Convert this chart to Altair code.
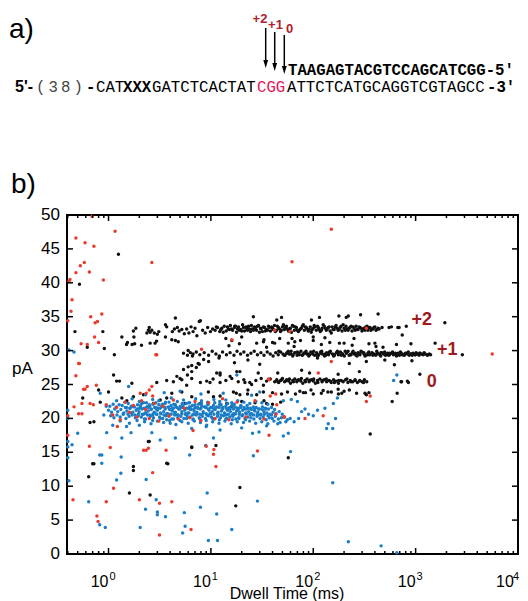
import altair as alt
import pandas as pd

# ---------------- data (dwell time in ms, current in pA) ----------------
black_plus2 = [(11,33.0),(11.6,33.4),(12.2,32.8),(12.8,33.3),(13.5,33.6),(14.1,32.9),(14.8,33.2),(15.5,33.7),(16.3,33.0),(17.0,33.4),(17.8,32.7),(18.6,33.5),(19.5,33.1),(20.4,33.8),(21.3,32.9),(22.3,33.3),(23.3,33.6),(24.4,32.8),(25.5,33.2),(26.7,33.5),(27.9,33.0),(29.2,33.7),(30.5,33.3),(31.9,32.8),(33.4,33.4),(34.9,33.1),(36.5,33.6),(38.2,32.9),(40,33.3),(41.8,33.7),(43.7,33.0),(45.7,33.4),(47.8,32.8),(50,33.5),(52.3,33.1),(54.7,33.6),(57.2,32.9),(59.8,33.3),(62.5,33.7),(65.4,33.0),(68.4,33.4),(71.5,32.8),(74.8,33.2),(78.2,33.6),(81.8,33.0),(85.5,33.4),(89.4,32.9),(93.5,33.5),(97.8,33.1),(102,33.7),(107,33.0),(112,33.4),(117,32.8),(122,33.3),(128,33.6),(134,33.0),(140,33.4),(146,32.9),(153,33.5),(160,33.1),(167,33.7),(175,33.0),(183,33.4),(191,32.9),(200,33.3),(209,33.6),(219,33.0),(229,33.4),(239,32.9),(250,33.3),(262,33.6),(274,33.1),(286,33.4),(299,32.9),(313,33.3),(327,33.5),(342,33.0),(358,33.4),(374,33.2),(391,33.4),(410,33.0),(430,33.3)]
black_plus2_b = [(11.3,33.5),(12.5,33.1),(13.2,32.7),(14.5,33.5),(15.9,33.2),(17.4,33.6),(19.0,33.0),(20.8,33.4),(22.8,33.0),(24.9,33.7),(27.3,33.3),(29.8,32.7),(32.6,33.5),(35.7,33.0),(39.1,33.5),(42.7,32.8),(46.7,33.2),(51.1,33.8),(55.9,33.2),(61.1,32.7),(66.8,33.5),(73.1,33.0),(79.9,33.8),(87.4,33.2),(95.6,32.7),(104,33.5),(114,33.1),(125,33.8),(137,33.2),(150,32.6),(164,33.5),(179,33.1),(196,33.8),(214,33.2),(234,33.6),(256,33.0),(280,33.5),(306,33.1),(335,33.6),(366,33.0),(400,33.5),(440,33.2),(470,33.4)]
black_plus2_c_x = [15.2,17.1,18.2,20,22,23.8,26,28.5,31,34,37.3,40.8,44.6,48.9,53.5,58.5,64,70,76.5,83.7,91.5,100,110,120,131,143,156,171,187,205,224,245,268,293,320,350,383,418]
black_plus2_c_y = [33.1,33.6,33.2,32.9,33.5,33.2,33.0,33.6,33.2,32.9,33.4,33.1,33.6,33.0,33.4,33.2,33.6,33.0,33.3,33.5,33.1,33.3,33.6,33.0,33.3,33.5,33.1,33.3,33.6,33.0,33.3,33.5,33.1,33.3,33.0,33.4,33.2,33.1]
black_plus1 = [(5.4,29.6),(6.0,30.0),(6.6,29.2),(7.2,29.8),(7.8,29.4),(8.6,29.7),(9.5,29.3),(10.3,29.9),(11.2,29.5),(12.1,29.2),(13.0,29.8),(14.2,29.4),(15.4,29.7),(16.8,29.3),(18.0,29.9),(19.5,29.5),(21.0,29.8),(22.8,29.3),(24.6,29.6),(26.5,29.9),(28.5,29.4),(30.8,29.7),(33,29.3),(35.5,29.8),(38,29.5),(40.5,29.2),(43,29.7),(45.5,29.4),(48,29.8),(50.5,29.5),(53,29.3),(55.5,29.7),(58,29.5),(60.8,29.9),(63.6,29.4),(66.5,29.7),(69.5,29.3),(72.6,29.6),(75.8,29.9),(79.2,29.4),(82.8,29.7),(86.5,29.5),(90.4,29.2),(94.5,29.8),(98.7,29.5),(103,29.3),(108,29.7),(113,29.4),(118,29.8),(123,29.5),(129,29.2),(135,29.7),(141,29.4),(147,29.9),(154,29.5),(161,29.3),(168,29.7),(176,29.4),(184,29.8),(192,29.5),(201,29.2),(210,29.6),(219,29.9),(229,29.4),(240,29.7),(251,29.5),(262,29.3),(274,29.7),(286,29.4),(299,29.8),(313,29.5),(327,29.3),(342,29.6),(357,29.4),(374,29.7),(391,29.5),(408,29.3),(427,29.6),(446,29.4),(466,29.7),(487,29.5),(509,29.3),(532,29.6),(556,29.4),(581,29.6),(607,29.4),(635,29.6),(664,29.5),(694,29.3),(725,29.6),(758,29.4),(792,29.6),(828,29.5),(866,29.3),(905,29.5),(946,29.6),(989,29.4),(1034,29.5),(1080,29.3),(1130,29.5),(1180,29.4),(1240,29.5),(1300,29.3),(1360,29.5)]
black_plus1_b = [(46,29.9),(52,29.3),(57,29.9),(63,29.2),(70,29.8),(78,29.3),(85,29.9),(92,29.4),(101,29.9),(111,29.2),(121,29.9),(132,29.3),(144,29.8),(158,29.2),(172,29.9),(188,29.3),(205,29.9),(224,29.3),(245,29.9),(268,29.2),(292,29.9),(320,29.2),(349,29.8),(382,29.3),(417,29.9),(456,29.2),(498,29.8),(544,29.3),(595,29.8),(650,29.2),(710,29.8),(776,29.3),(848,29.8),(927,29.3),(1010,29.7),(1105,29.6),(1210,29.7),(1400,29.4)]
black_plus1_c_x = [55,60,66,73,81,89,98,108,119,131,144,159,175,193,212,234,257,283,312,343,378,416,458,504,555,611,673,741,816,898,990,1090,1200,1320]
black_plus1_c_y = [29.6,29.5,29.7,29.4,29.6,29.5,29.7,29.4,29.6,29.5,29.7,29.4,29.6,29.5,29.7,29.4,29.6,29.5,29.7,29.4,29.6,29.5,29.7,29.4,29.6,29.5,29.6,29.4,29.6,29.5,29.4,29.6,29.5,29.4]
black_zero = [(9.1,25.5),(10.5,25.8),(12.3,25.3),(14.0,25.6),(16,25.9),(18.5,25.4),(21,25.7),(24,25.3),(27.5,25.6),(31,25.9),(35,25.5),(38,25.8),(42,25.4),(44,25.7),(46,25.3),(48,25.6),(50,25.9),(52.5,25.4),(55,25.7),(57.5,25.5),(60,25.2),(63,25.6),(66,25.8),(69,25.4),(72,25.7),(75.5,25.5),(79,25.2),(83,25.6),(87,25.8),(91,25.4),(95.5,25.7),(100,25.5),(105,25.2),(110,25.6),(116,25.8),(122,25.4),(128,25.7),(135,25.4),(142,25.6),(150,25.3),(158,25.7),(167,25.5),(176,25.2),(186,25.6),(196,25.4),(207,25.7),(218,25.3),(230,25.6),(243,25.4),(256,25.7),(270,25.3),(285,25.6),(300,25.4),(316,25.7),(333,25.4)]
black_zero_b_x = [45,49,53.5,58.5,64,70,76.5,84,92,101,111,122,134,147,161,177,194,213,234,257,282,310]
black_zero_b_y = [25.4,25.7,25.5,25.8,25.4,25.6,25.9,25.4,25.6,25.8,25.3,25.6,25.8,25.5,25.3,25.6,25.5,25.8,25.4,25.6,25.5,25.3]
black_scatter = [(1.25,44.2),(0.52,39.8),(0.47,32.8),(0.88,32.8),(0.62,30.5),(0.91,30.3),(1.14,29.4),(1.12,26.4),(1.2,25.5),(1.28,25.5),(0.56,23.0),(0.80,24.2),(1.0,23.9),
(1.35,32.0),(1.53,31.2),(1.75,32.9),(1.77,32.0),(1.85,33.3),(1.5,30.9),(1.7,30.9),(1.8,31.0),(2.1,30.8),(2.37,32.6),(2.45,33.0),(2.55,32.7),(2.65,33.0),(2.8,32.6),(3.0,32.4),(3.1,32.8),(2.5,33.4),(2.85,31.1),(3.6,33.8),(3.7,33.5),(3.6,32.0),(4.2,32.8),(4.4,33.2),(4.7,33.4),(4.9,32.9),(5.2,33.1),(5.5,32.5),(5.8,33.2),(6.1,32.6),(6.4,33.5),(6.7,32.8),(7.0,33.3),(7.3,32.2),(7.7,34.3),(8.3,33.0),(8.8,32.6),(9.3,33.4),(9.9,32.8),(10.4,33.2),(4.5,31.5),(4.8,31.3),(4.15,31.6),(2.55,31.1),(2.95,31.4),(4.5,34.8),(7.9,34.4),(26,35.0),
(28,31.1),(32.6,31.3),(42,31.1),(47,31.8),(57,31.1),(62,31.8),(66,31.3),(100,31.5),(100,32.0),
(44,34.5),(49,34.9),(96,34.5),(115,34.9),(178,35.1),(210,34.9),(220,35.1),(290,35.3),(430,35.4),(550,33.4),(580,33.5),(670,33.4),(690,33.4),(810,33.6),(740,32.3),(1930,34.1),(180,31.1),(200,31.1),(400,31.1),(410,30.6),(14,31.8),(16,31.5),(20,32.0),(33,31.6),(40,31.2),(75,31.5),(130,31.9),(250,31.8),
(1550,31.1),(2860,29.4),(500,28.6),(620,27.9),(920,28.5),(110,28.9),(225,28.1),(330,28.4),(7.5,28.1),(5.9,29.3),(6.3,29.7),(6.7,29.5),(5.4,27.2),(6.0,27.6),(6.5,27.8),(7.2,27.5),(7.7,28.0),(8.5,28.7),(9.5,28.4),(12,28.9),(17,28.2),(23,28.6),(30,28.0),(15,30.7),(19,31.0),(35,30.5),(65,30.6),(120,30.9),(145,31.2),(240,30.8),(350,31.0),(480,30.5),(650,30.9),(900,31.0),
(1.69,25.2),(2.96,25.3),(3.7,25.6),(4.65,26.2),(5.2,25.7),(6.5,25.9),(5.8,24.9),(7.9,25.3),(9.8,25.3),(11.4,26.7),(12.3,26.4),(15.4,26.2),(19.2,26.9),(21.5,25.3),(25,25.0),(32.6,24.9),
(0.83,22.4),(1.35,23.0),(1.51,22.6),(1.75,23.2),(2.2,23.5),(2.75,22.2),(3.2,22.7),(3.7,23.0),(4.15,23.7),(5.2,23.9),(5.6,22.2),(6.5,23.2),(7.9,22.2),(9.45,23.9),(10.6,23.2),(12.3,23.3),(14.3,22.2),(16.6,23.9),(19.2,23.5),(23,24.2),(28,23.5),(32.6,23.9),(35,22.2),
(74,24.0),(80,23.8),(95,24.2),(100,23.6),(125,24.1),(150,23.9),(175,24.3),(190,23.7),(200,24.0),(225,24.2),(265,23.7),(330,23.5),(350,23.8),(590,22.5),(660,23.7),(720,25.4),(830,25.5),(1100,26.5),(850,25.3),(730,25.4),(360,17.7),(57,14.2),(175,26.5),(282,26.9),(12.3,26.7),(17.9,26.9),(29,26.7),(45,26.7),(77,27.1),(92,26.7),(6.5,26.9),(5.9,26.4),(5.0,25.9),(4.3,25.4),
(17.7,23.7),(22.8,23.6),(40,23.8),(49,23.6),(56,23.9),(67,23.6),(84,23.8),(120,23.7),(139,23.9),(176,23.6),(320,23.7),
(12.3,22.0),(16,21.8),(20,22.5),(27,22.3),(33,22.6),(40,22.1),(48,22.4),
(0.72,19.5),(2.45,16.6),(1.75,12.9),(6.5,15.7),(0.72,13.3),(3.7,13.4),(0.64,11.4),(0.70,13.3),(1.6,9.0),(1.75,12.3),(2.55,8.7),(3.8,13.3),(19.2,9.8),(17.5,7.1),(6.5,15.8),(11.2,16.0),(2.5,16.6),(0.66,19.4)]

blue_a_x = [1.0,1.07,1.15,1.23,1.32,1.41,1.51,1.62,1.73,1.86,1.99,2.13,2.28,2.44,2.62,2.8,3.0,3.2,3.45,3.7,3.95,4.2,4.5,4.85,5.2,5.55,5.95,6.4,6.85,7.3,7.85,8.4,9.0,9.6,10.3,11,11.8,12.7,13.6,14.5,15.5,16.6,17.8,19.1,20.4,21.9,23.4,25,26.8,28.7,30.8,33,35.3,37.8,40.5,43.4,46.5,49.8]
blue_a_y = [21.2,20.9,21.4,21.0,21.3,20.8,21.1,21.5,20.9,21.2,21.0,21.4,20.8,21.1,21.3,20.9,21.2,21.5,21.0,20.7,21.3,21.1,20.9,21.4,21.0,21.2,20.8,21.3,21.1,20.9,21.4,21.0,20.7,21.2,21.0,21.3,20.9,21.1,20.8,21.2,21.0,20.7,21.1,20.9,21.2,20.8,21.0,20.7,21.1,20.9,20.6,21.0,20.8,20.6,20.9,20.7,21.0,20.6]
blue_b_x = [1.03,1.11,1.19,1.27,1.36,1.46,1.56,1.67,1.79,1.92,2.06,2.2,2.36,2.53,2.71,2.9,3.1,3.32,3.57,3.82,4.08,4.35,4.67,5.02,5.37,5.75,6.17,6.62,7.07,7.57,8.12,8.7,9.3,9.95,10.6,11.4,12.2,13.1,14,15,16.1,17.2,18.4,19.7,21.1,22.6,24.2,25.9,27.7,29.7,31.9,34.1,36.5,39.1,41.9]
blue_b_y = [21.8,22.1,21.7,22.0,21.9,21.6,22.2,21.8,21.7,22.0,21.9,22.3,21.7,21.8,22.1,21.6,22.0,21.8,22.2,21.7,21.9,22.1,21.6,21.8,22.0,22.2,21.7,21.9,21.6,22.1,21.8,21.7,22.0,21.6,21.9,21.7,22.1,21.6,21.8,21.5,21.9,21.7,21.5,21.8,21.6,21.9,21.5,21.7,21.6,21.4,21.7,21.5,21.4,21.6,21.3]
blue_c_x = [1.05,1.13,1.21,1.3,1.39,1.48,1.59,1.7,1.83,1.95,2.09,2.24,2.4,2.57,2.75,2.95,3.15,3.38,3.62,3.88,4.15,4.43,4.75,5.1,5.45,5.85,6.28,6.72,7.2,7.7,8.25,8.85,9.45,10.1,10.8,11.6,12.4,13.3,14.3,15.3,16.4,17.5,18.7,20.1,21.5,23,24.6,26.3,28.2,30.2,32.4,34.7,37.2,39.8,42.6,45.6,48.8,52.2,55.8,59.5]
blue_c_y = [20.4,20.1,20.5,20.2,20.6,20.0,20.3,20.5,20.1,20.4,20.2,19.9,20.5,20.3,20.1,20.6,20.2,20.0,20.4,20.3,19.9,20.5,20.1,20.3,20.0,20.4,20.2,19.9,20.5,20.1,20.3,20.0,20.4,20.2,19.9,20.3,20.1,20.4,20.0,20.2,20.3,19.9,20.1,20.4,20.0,20.2,20.1,19.9,20.3,20.0,20.2,19.8,20.1,20.0,20.3,19.9,20.1,20.2,19.8,20.0]
blue_d_x = [1.2,1.45,1.7,2.0,2.35,2.7,3.1,3.6,4.1,4.7,5.4,6.2,7.1,8.1,9.3,10.7,12.2,14,16,18.3,21,24,27.5,31.5,36]
blue_d_y = [22.6,22.4,22.9,22.5,22.3,22.8,22.6,22.4,23.0,22.5,22.7,22.3,22.9,22.6,22.4,22.8,22.5,22.7,22.3,22.6,22.4,22.2,22.5,22.3,22.1]
blue_e_x = [1.3,1.6,1.9,2.25,2.6,3.0,3.45,3.95,4.55,5.2,6.0,6.9,7.9,9.1,10.4,12,13.7,15.8,18.1,20.8,23.9,27.4,31.4,36,41.3,47.4,54]
blue_e_y = [19.6,19.3,19.7,19.5,19.2,19.6,19.4,19.7,19.1,19.5,19.3,19.6,19.4,19.0,19.5,19.3,19.6,19.2,19.5,19.4,19.6,19.3,19.5,19.2,19.6,19.4,19.5]
blue_f_x = [2.0,2.2,2.45,2.7,2.95,3.25,3.55,3.9,4.3,4.7,5.15,5.65,6.2,6.8,7.45,8.15,8.95,9.8,10.7,11.7,12.9,14.1,15.4,16.9,18.5,20.3,22.2,24.3,26.6,29.2]
blue_f_y = [21.5,20.6,21.6,20.5,21.4,20.7,21.6,20.6,21.5,20.5,21.6,20.7,21.4,20.6,21.5,20.5,21.6,20.7,21.4,20.6,21.5,20.5,21.4,20.6,21.3,20.5,21.4,20.6,21.3,20.5]
blue_g_x = [1.5,1.62,1.75,1.9,2.05,2.22,2.4,2.6,2.82,3.05,3.3,3.58,3.88,4.2,4.55,4.93,5.35,5.8,6.3,6.82,7.4,8.0,8.7,9.4,10.2,11.05,12,13,14.1,15.3,16.6,18,19.5,21.2,23,24.9,27,29.3,31.8,34.5]
blue_g_y = [21.6,21.5,21.7,21.4,21.6,21.5,21.7,21.4,21.6,21.5,21.7,21.4,21.6,21.5,21.7,21.4,21.6,21.5,21.7,21.4,21.6,21.5,21.7,21.4,21.6,21.5,21.6,21.4,21.5,21.6,21.4,21.5,21.6,21.4,21.5,21.3,21.5,21.4,21.3,21.4]
blue_h_x = [1.4,1.55,1.68,1.82,1.97,2.14,2.32,2.52,2.73,2.96,3.21,3.48,3.77,4.09,4.43,4.8,5.2,5.64,6.11,6.62,7.18,7.78,8.43,9.14,9.9,10.7,11.6,12.6,13.7,14.8,16.1,17.4,18.9,20.5,22.2,24.1,26.1,28.3,30.7,33.3,36.1,39.1]
blue_h_y = [20.7,20.6,20.8,20.5,20.7,20.6,20.8,20.5,20.7,20.6,20.8,20.5,20.7,20.6,20.8,20.5,20.7,20.6,20.8,20.5,20.7,20.6,20.8,20.5,20.7,20.6,20.8,20.5,20.7,20.6,20.5,20.7,20.6,20.5,20.7,20.6,20.5,20.6,20.5,20.6,20.4,20.5]
blue_i_x = [2.1,2.5,2.9,3.35,3.9,4.5,5.25,6.1,7.0,8.1,9.4,10.9,12.6,14.6,16.9,19.6]
blue_i_y = [22.2,22.0,22.3,22.1,22.4,22.0,22.2,22.3,22.0,22.2,22.1,22.3,22.0,22.2,22.1,21.9]
blue_j_x = [2.3,2.7,3.2,3.7,4.3,5.0,5.8,6.7,7.8,9.0,10.4,12.1,14,16.2,18.8,21.8]
blue_j_y = [19.9,19.7,20.0,19.8,19.9,19.7,20.0,19.8,19.9,19.7,20.0,19.8,19.9,19.8,20.0,19.8]
blue_scatter = [(0.41,30.1),(0.46,29.8),(0.40,21.2),(0.40,20.0),(0.40,16.6),(0.40,15.8),(0.40,14.2),(0.41,10.8),(0.44,16.1),(0.50,17.8),(0.83,23.7),(1.57,24.7),(0.96,17.9),(1.35,17.1),(1.66,17.9),(0.86,14.6),(0.82,14.6),(1.33,14.3),(0.86,13.4),(2.65,17.9),(3.2,16.8),(4.5,17.1),(4.0,19.3),(6.2,14.6),(8.9,16.0),(10.6,17.1),(12.3,18.3),(13.2,23.7),(0.64,7.7),(0.82,4.3),(0.93,3.9),(1.32,11.9),(1.2,10.9),(2.33,11.0),(2.3,6.6),(2.92,8.0),(3.0,6.2),(3.0,5.8),(3.6,5.5),(2.04,3.9),(5.5,6.1),(5.6,4.1),(5.3,3.1),(7.9,6.9),(9.2,9.0),(9.45,2.0),(11.6,2.0),(11.4,5.9),(16,3.6),(28.5,7.8),(220,1.8),(460,1.2),(655,0.2),(155,10.5),(60,15.1),(57,17.8),(51,17.4),(135,18.5),(140,19.2),(155,18.5),(165,20.0),(100,20.4),(77,21.0),(72,20.0),(83,21.4),(90,20.6),(110,21.2),(130,21.5),(26,14.5),(25.5,17.8),(29.5,18.0),(51,22.6),(61,22.8),(157,22.2),(172,23.0),(655,26.4),(610,25.6),(2.3,23.5),(3.5,23.8),(5.0,24.0),(8,23.6),(25,23.4),(30,23.9),(70,22.5),(17.9,26.4),(1.1,19.0),(1.5,18.8),(2.0,19.0),(6.5,18.5),(9,18.8),(20,18.6),(35,18.9),(45,19.2),(65,19.5),(0.9,20.5),(0.95,21.8)]

red_points = [(0.69,49.8),(0.48,46.6),(0.59,45.9),(0.72,45.4),(0.53,42.5),(0.58,43.0),(0.48,41.5),(0.65,41.6),(0.41,40.2),(0.42,40.5),(0.89,40.4),(1.16,47.6),(2.65,43.0),(0.44,37.5),(0.43,35.8),(0.40,34.4),(0.67,35.0),(0.74,34.1),(0.78,34.3),(0.86,35.4),(0.73,32.0),(0.80,31.2),(0.54,31.0),(0.62,30.9),(0.52,28.1),(0.48,26.3),(2.96,29.4),(8.1,30.2),(0.76,24.9),(0.59,24.3),(0.62,24.7),(0.55,22.2),(0.46,21.7),(2.65,24.7),(2.5,24.2),(2.04,23.7),(150,47.9),(62,43.1),(5600,29.5),(330,33.3),(150,28.4),(112,26.7),(43,23.6),(330,22.5),(360,23.3),(37,25.7),(42,33.0),(59,32.8),(16,31.6),(2.9,29.4),(0.51,28.1),(0.57,24.3),(0.51,20.7),(0.55,20.7),(0.66,22.2),(0.71,22.0),(0.65,15.9),(1.04,15.7),(1.22,18.8),(2.2,15.3),(2.33,15.3),(2.45,15.6),(3.65,15.3),(2.33,23.7),(2.7,23.3),(6.7,18.2),(9,15.9),(10.7,15.4),(10.6,14.7),(11.2,12.9),(0.45,8.0),(0.77,5.6),(0.79,4.8),(0.95,7.7),(1.12,9.7),(2.0,8.0),(2.7,12.0),(3.15,7.5),(4.15,7.7),(3.15,2.8),(6.4,3.6),(28.5,15.2),(125,20.4),(83,20.0),(37,17.5),(52,20.2),(43,20.6),(44,22.0),(36.5,25.8),(0.40,20.4),(0.40,17.5),
(0.95,22.0),(1.1,20.5),(1.2,21.6),(1.3,19.8),(1.45,22.4),(1.6,20.9),(1.75,21.9),(1.9,20.2),(2.1,22.6),(2.3,21.3),(2.5,20.0),(2.8,22.2),(3.1,19.6),(3.4,21.8),(3.9,20.4),(4.3,22.7),(4.8,19.9),(5.5,21.5),(6.2,20.1),(7,22.5),(8,19.7),(9.5,22.3),(11,20.0),(13,22.9),(15,19.8),(18,22.4),(22,20.2),(27,22.6),(33,19.9),(38,23.3),(52,20.2)]

y_ticks = [0, 5, 10, 15, 20, 25, 30, 35, 40, 45, 50]
x_decades = [1, 10, 100, 1000, 10000]
x_exponents = ["0", "1", "2", "3", "4"]
x_minor = [0.4,0.5,0.6,0.7,0.8,0.9,2,3,4,5,6,7,8,9,20,30,40,50,60,70,80,90,200,300,400,500,600,700,800,900,2000,3000,4000,5000,6000,7000,8000,9000]
state_labels = ["+2", "+1", "0"]
state_label_ms = [1150, 2040, 1440]
state_label_pA = [33.8, 29.35, 24.7]

seq_top = "TAAGAGTACGTCCAGCATCGG-5'"
arrow_labels = ["+2", "+1", "0"]

# ---------------- build tables ----------------
rows = []
for lst in (black_plus2, black_plus2_b, black_plus1, black_plus1_b, black_zero, black_scatter):
    rows += [(x, y, "black") for x, y in lst]
for xs, ys in ((black_plus2_c_x, black_plus2_c_y), (black_plus1_c_x, black_plus1_c_y), (black_zero_b_x, black_zero_b_y)):
    rows += [(x, y, "black") for x, y in zip(xs, ys)]
for xs, ys in ((blue_a_x, blue_a_y), (blue_b_x, blue_b_y), (blue_c_x, blue_c_y),
               (blue_d_x, blue_d_y), (blue_e_x, blue_e_y), (blue_f_x, blue_f_y),
               (blue_g_x, blue_g_y), (blue_h_x, blue_h_y), (blue_i_x, blue_i_y), (blue_j_x, blue_j_y)):
    rows += [(x, y, "blue") for x, y in zip(xs, ys)]
rows += [(x, y, "blue") for x, y in blue_scatter]
rows += [(x, y, "red") for x, y in red_points]
df = pd.DataFrame(rows, columns=["ms", "pA", "grp"])

W, H = 451, 339
PAD_L, PAD_T, PAD_R, PAD_B = 59, 207, 2, 48
OX, OY = 8 + PAD_L, 8 + PAD_T  # page position of plot origin
FONT = "Liberation Sans"
MONO = "Liberation Mono"

xscale = alt.Scale(type="log", domain=[0.393, 10000], nice=False)
yscale = alt.Scale(domain=[0, 50], nice=False)

points = alt.Chart(df).mark_circle(size=12, opacity=1).encode(
    x=alt.X("ms:Q", scale=xscale, axis=None),
    y=alt.Y("pA:Q", scale=yscale, axis=None),
    color=alt.Color("grp:N", scale=alt.Scale(domain=["black", "blue", "red"],
                                             range=["#111111", "#1b7dc6", "#ea3a2c"]), legend=None),
)

ydf = pd.DataFrame({"v": y_ticks, "s": [str(v) for v in y_ticks]})
majdf = pd.DataFrame({"v": x_decades, "base": ["10"] * 5, "exp": x_exponents})
maj_inner = majdf.iloc[:-1]
maj_last = majdf.iloc[-1:]
mindf = pd.DataFrame({"v": x_minor})

def yt(x0, x1):
    return alt.Chart(ydf).mark_rule(color="black", strokeWidth=1.5).encode(
        y=alt.Y("v:Q", scale=yscale, axis=None), x=alt.value(x0), x2=alt.value(x1))

def xt(d, y0, y1):
    return alt.Chart(d).mark_rule(color="black", strokeWidth=1.5).encode(
        x=alt.X("v:Q", scale=xscale, axis=None), y=alt.value(y0), y2=alt.value(y1))

ticks = [yt(0, 6), yt(W, W - 6),
         xt(majdf, H, H - 6), xt(majdf, 0, 6), xt(mindf, H, H - 3), xt(mindf, 0, 3)]

ylabels = alt.Chart(ydf).mark_text(fontSize=17, font=FONT, align="right", baseline="middle", color="black").encode(
    y=alt.Y("v:Q", scale=yscale, axis=None), x=alt.value(-7), text="s:N")

def xlab(d, dx_base, dx_exp):
    b = alt.Chart(d).mark_text(fontSize=16, font=FONT, align="center", baseline="alphabetic", dx=dx_base,
                               color="black").encode(
        x=alt.X("v:Q", scale=xscale, axis=None), y=alt.value(H + 33), text="base:N")
    e = alt.Chart(d).mark_text(fontSize=11, font=FONT, align="center", baseline="alphabetic", dx=dx_exp,
                               color="black").encode(
        x=alt.X("v:Q", scale=xscale, axis=None), y=alt.value(H + 26), text="exp:N")
    return [b, e]

xlabels = xlab(maj_inner, -9, 4) + xlab(maj_last, -13, -2)

sl = pd.DataFrame({"t": state_labels, "ms": state_label_ms, "pA": state_label_pA})
state_txt = alt.Chart(sl).mark_text(fontSize=18, font=FONT, align="center", baseline="alphabetic",
                                    color="#9e1a1e", fontWeight="bold").encode(
    x=alt.X("ms:Q", scale=xscale, axis=None), y=alt.Y("pA:Q", scale=yscale, axis=None), text="t:N")

one = pd.DataFrame({"a": [0]})

def txt(s, px, py, size, weight="normal", color="black", font=FONT, align="left"):
    return alt.Chart(one).mark_text(text=s, fontSize=size, fontWeight=weight, color=color, font=font,
                                    align=align, baseline="alphabetic").encode(
        x=alt.value(px - OX), y=alt.value(py - OY))

paren_chars = ["(", "3", "8", ")"]
paren_x = [36, 48.5, 61, 73.5]

annot = [
    txt("pA", 22.5, 374, 17, align="center"),
    txt("Dwell Time (ms)", 287, 599, 16, align="center"),
    txt("a)", 9, 38, 28),
    txt("b)", 11, 193, 28),
    txt(seq_top, 288, 74.5, 15.7, weight="bold", font=MONO),
    txt("5'-", 15, 92, 16, weight="bold"),
    txt("-", 86, 92, 15.7, weight="bold", font=MONO),
    txt("CAT", 96, 92, 15.7, font=MONO),
    txt("XXX", 123, 92, 15.7, weight="bold", font=MONO),
    txt("GATCTCACTAT", 152, 92, 15.7, font=MONO),
    txt("CGG", 257, 92, 15.7, color="#e2185a", font=MONO),
    txt("ATTCTCATGCAGGTCGTAGCC", 287, 92, 15.7, font=MONO),
    txt("-3'", 487, 92, 15.7, weight="bold", font=MONO),
] + [txt(c, px, 92, 15.7, color="#444444", font=MONO) for c, px in zip(paren_chars, paren_x)]

arrow_x = [265.7, 274.7, 284.3]
arrow_top = [28, 32, 35]
arrow_tip = [68, 71, 74]
label_x = [260, 275.5, 289.5]
label_y = [23, 29, 33]
arrows = []
for ax, at, tip, lx, ly, lab in zip(arrow_x, arrow_top, arrow_tip, label_x, label_y, arrow_labels):
    arrows.append(alt.Chart(one).mark_rule(color="black", strokeWidth=1.5).encode(
        x=alt.value(ax - OX), y=alt.value(at - OY), y2=alt.value(tip - 6 - OY)))
    arrows.append(alt.Chart(one).mark_point(shape="M-0.6,-1L0.6,-1L0,1Z", filled=True, size=64,
                                            color="black", opacity=1, strokeWidth=0).encode(
        x=alt.value(ax - OX), y=alt.value(tip - 4 - OY)))
    arrows.append(txt(lab, lx, ly, 13, weight="bold", color="#b0202e", align="center"))

chart = alt.layer(points, *ticks, ylabels, *xlabels, state_txt, *annot, *arrows).properties(
    width=W, height=H,
    padding={"left": PAD_L, "top": PAD_T, "right": PAD_R, "bottom": PAD_B},
    autosize=alt.AutoSizeParams(type="none"),
).configure_view(stroke="black", strokeWidth=2)

chart.save("out.html", embed_options={"renderer": "svg", "actions": False})
